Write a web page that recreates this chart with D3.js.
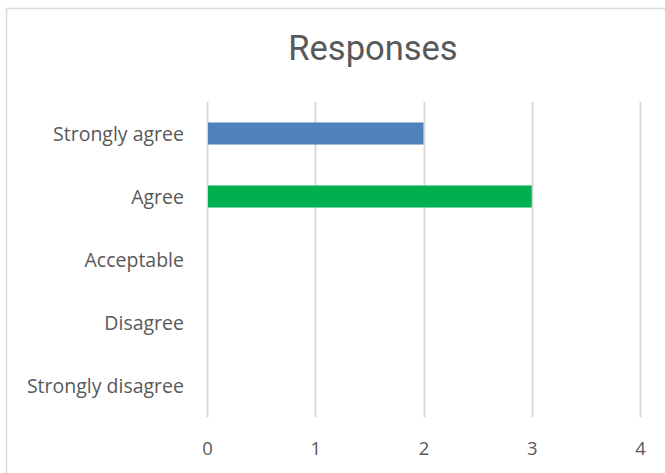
<!DOCTYPE html>
<html>
<head>
<meta charset="utf-8">
<script src="https://cdn.jsdelivr.net/npm/d3@7"></script>
<style>
  html, body { margin: 0; padding: 0; background: #fff; }
  svg { display: block; }
</style>
</head>
<body>
<svg id="chart" width="665" height="473"></svg>
<script>
// Survey responses, top to bottom
const categories = ["Strongly agree", "Agree", "Acceptable", "Disagree", "Strongly disagree"];
const counts = [2, 3, 0, 0, 0];
const barColors = ["#4f81bd", "#00b050", "#4f81bd", "#4f81bd", "#4f81bd"];
const xTicks = [0, 1, 2, 3, 4];
const title = "Responses";

const svg = d3.select("#chart");
const labelFont = "'Open Sans', Lato, sans-serif";

// chart area frame (continues past the right and bottom edges)
svg.append("rect")
  .attr("x", 6.5).attr("y", 8.5)
  .attr("width", 700).attr("height", 500)
  .attr("fill", "#fff")
  .attr("stroke", "#d9d9d9")
  .attr("stroke-width", 1.5);

const plot = { left: 207, right: 640, top: 102, bottom: 417 };

const x = d3.scaleLinear().domain([0, 4]).range([plot.left, plot.right]);
const y = d3.scaleBand().domain(categories).range([plot.top, plot.bottom])
  .paddingInner(0.65).paddingOuter(0.325);

// vertical gridlines
svg.append("g")
  .selectAll("line")
  .data(xTicks)
  .join("line")
  .attr("x1", d => Math.round(x(d)) + 0.5)
  .attr("x2", d => Math.round(x(d)) + 0.5)
  .attr("y1", plot.top)
  .attr("y2", plot.bottom)
  .attr("stroke", "#d9d9d9")
  .attr("stroke-width", 2);

// bars
svg.append("g")
  .selectAll("rect")
  .data(categories.map((c, i) => ({ c, v: counts[i], color: barColors[i] })).filter(d => d.v > 0))
  .join("rect")
  .attr("x", x(0) + 1)
  .attr("y", d => y(d.c))
  .attr("width", d => x(d.v) - x(0) - 1)
  .attr("height", y.bandwidth())
  .attr("fill", d => d.color);

// category labels
const yAxis = d3.axisLeft(y).tickSize(0).tickPadding(0);
const gy = svg.append("g")
  .attr("transform", `translate(${plot.left - 23},0)`)
  .call(yAxis);
gy.select(".domain").remove();
gy.selectAll("text")
  .attr("font-family", labelFont)
  .attr("font-size", 19.5)
  .attr("fill", "#595959")
  .attr("dy", "0.36em");

// value axis labels
const xAxis = d3.axisBottom(x).tickValues(xTicks).tickSize(0).tickPadding(0).tickFormat(d3.format("d"));
const gx = svg.append("g")
  .attr("transform", `translate(0,${plot.bottom + 31})`)
  .call(xAxis);
gx.select(".domain").remove();
gx.selectAll("text")
  .attr("font-family", labelFont)
  .attr("font-size", 18.5)
  .attr("fill", "#595959")
  .attr("dy", "0.36em");

// title
svg.append("text")
  .attr("x", 373)
  .attr("y", 60)
  .attr("text-anchor", "middle")
  .attr("font-family", "Roboto, sans-serif")
  .attr("font-size", 34.5)
  .attr("fill", "#595959")
  .text(title);
</script>
</body>
</html>
